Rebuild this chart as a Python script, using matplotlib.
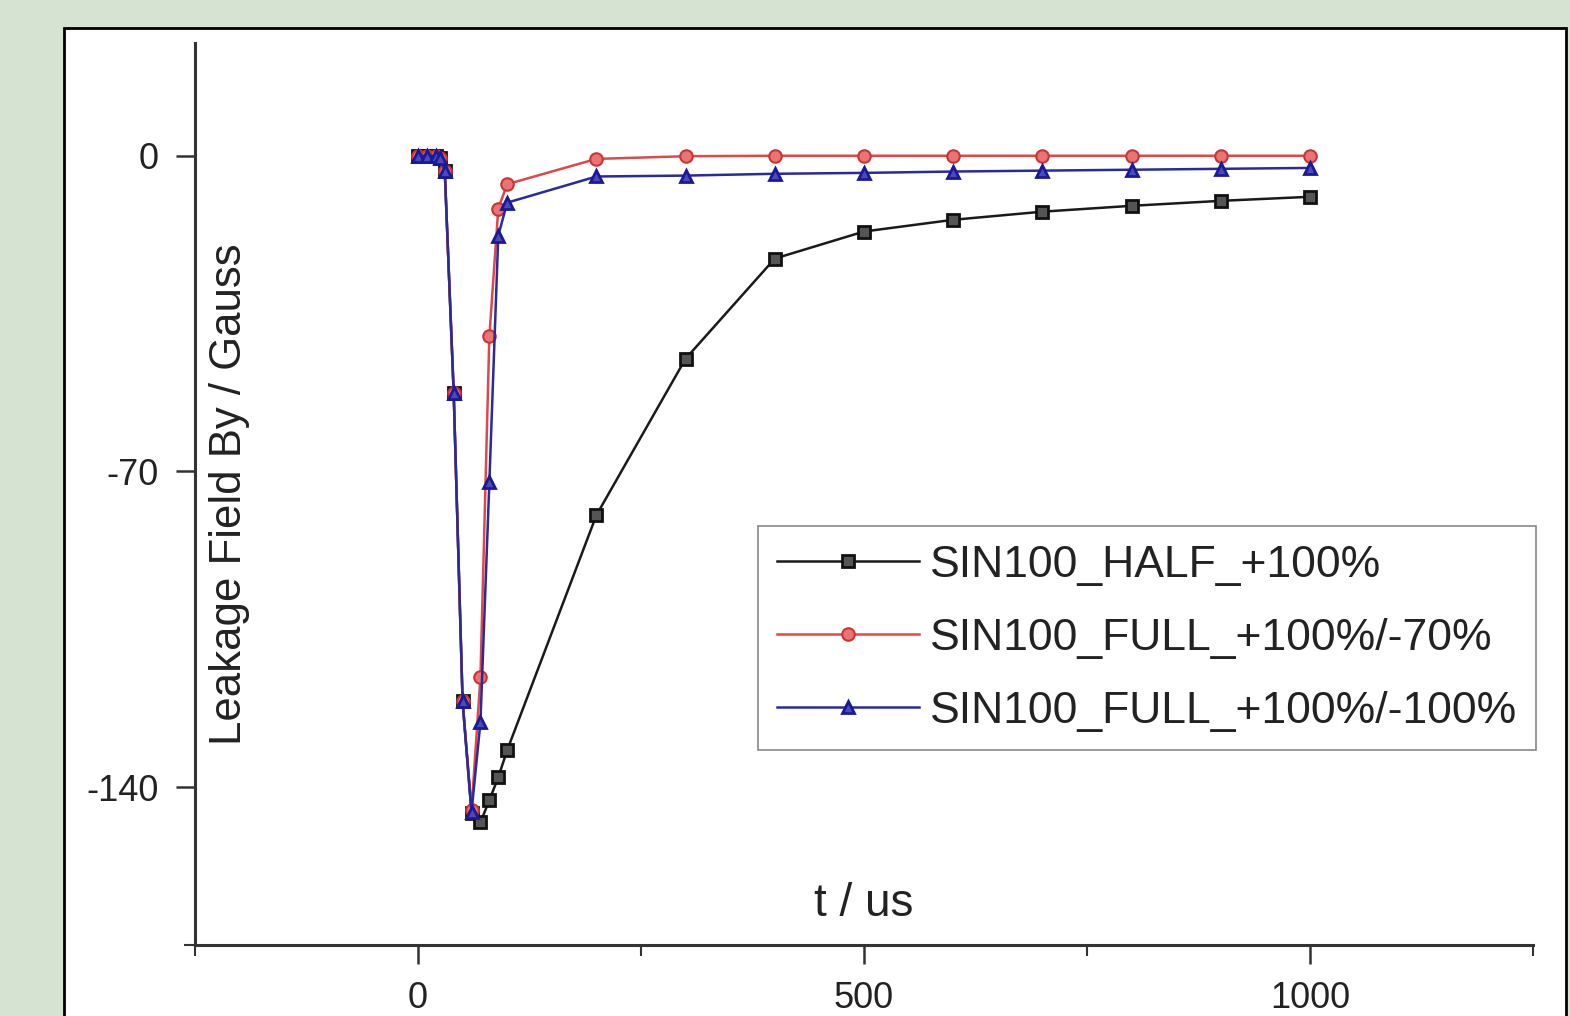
import numpy as np
import matplotlib
matplotlib.use("Agg")
import matplotlib.pyplot as plt
from matplotlib.patches import Rectangle
from matplotlib.ticker import FixedLocator

plt.rcParams["font.family"] = ["Liberation Sans", "DejaVu Sans"]
plt.rcParams["axes.unicode_minus"] = False

# time points / us
t = [0, 10, 20, 25, 30, 40, 50, 60, 70, 80, 90, 100,
     200, 300, 400, 500, 600, 700, 800, 900, 1000]

half_100 = [0, 0, 0, -0.5, -3.3, -52.5, -121, -145.8, -147.8, -142.9, -137.8, -131.8,
            -79.7, -45.0, -22.8, -16.8, -14.2, -12.4, -11.1, -10.0, -9.1]
full_70 = [0, 0, 0, -0.5, -3.3, -52.5, -121, -145.0, -115.6, -40.0, -11.7, -6.3,
           -0.7, -0.1, 0, 0, 0, 0, 0, 0, 0]
full_100 = [0, 0, 0, -0.5, -3.3, -52.5, -121, -145.5, -125.6, -72.4, -17.7, -10.4,
            -4.6, -4.4, -4.0, -3.8, -3.5, -3.3, -3.1, -2.9, -2.7]

labels = ["SIN100_HALF_+100%", "SIN100_FULL_+100%/-70%", "SIN100_FULL_+100%/-100%"]

W, H = 1570, 1016
fig = plt.figure(figsize=(W / 100, H / 100), dpi=100)
fig.patch.set_facecolor("#d6e3d2")

# white panel with black frame, behind the axes
panel = Rectangle((64 / W, -0.01), (1566 - 64) / W, 1 - 28 / H + 0.01,
                  transform=fig.transFigure, facecolor="white",
                  edgecolor="black", linewidth=2, zorder=-10)
fig.patches.append(panel)

ax = fig.add_axes([195 / W, 1 - 945 / H, (1533 - 195) / W, (945 - 43) / H])
ax.set_facecolor("none")
ax.set_zorder(5)

ax.plot(t, half_100, color="#1a1a1a", lw=1.8, marker="s", ms=8,
        mfc="#555555", mec="#111111", mew=2, label=labels[0], zorder=3)
ax.plot(t, full_70, color="#e04848", lw=1.8, marker="o", ms=9,
        mfc="#e87474", mec="#cc3333", mew=1.5, label=labels[1], zorder=4)
ax.plot(t, full_100, color="#2a2a9a", lw=1.8, marker="^", ms=9,
        mfc="#4a4ab8", mec="#1a1a99", mew=2, label=labels[2], zorder=5)

ax.set_xlim(-250, 1250)
ax.set_ylim(-175, 25)

for side in ["top", "right"]:
    ax.spines[side].set_visible(False)
for side in ["left", "bottom"]:
    ax.spines[side].set_linewidth(2.2)
    ax.spines[side].set_color("#333333")

ax.set_xticks([0, 500, 1000])
ax.set_yticks([0, -70, -140])
ax.xaxis.set_minor_locator(FixedLocator([-250, 250, 750, 1250]))
ax.yaxis.set_minor_locator(FixedLocator([-175]))
ax.tick_params(which="major", direction="out", length=14, width=1.8,
               color="#333333", labelsize=26, labelcolor="#222222", pad=12)
ax.tick_params(which="minor", direction="out", length=8, width=1.5, color="#333333")

# axis titles sit inside the plot area
ax.set_ylabel("Leakage Field By / Gauss", fontsize=31.5, color="#222222")
ax.yaxis.set_label_coords(0.041, 0.5)
ax.text(0.50, 0.045, "t / us", transform=ax.transAxes, fontsize=33,
        color="#222222", ha="center", va="center")

leg = ax.legend(loc="upper left", bbox_to_anchor=(758 / W, 1 - 526 / H),
                bbox_transform=fig.transFigure, fontsize=32, frameon=True,
                fancybox=False, framealpha=1, edgecolor="#888888",
                handlelength=3.2, handletextpad=0.25, labelspacing=0.72,
                borderpad=0.42, borderaxespad=0)
leg.get_frame().set_linewidth(1.2)
for txt in leg.get_texts():
    txt.set_color("#222222")

fig.savefig("out.png", dpi=100, facecolor=fig.get_facecolor())
